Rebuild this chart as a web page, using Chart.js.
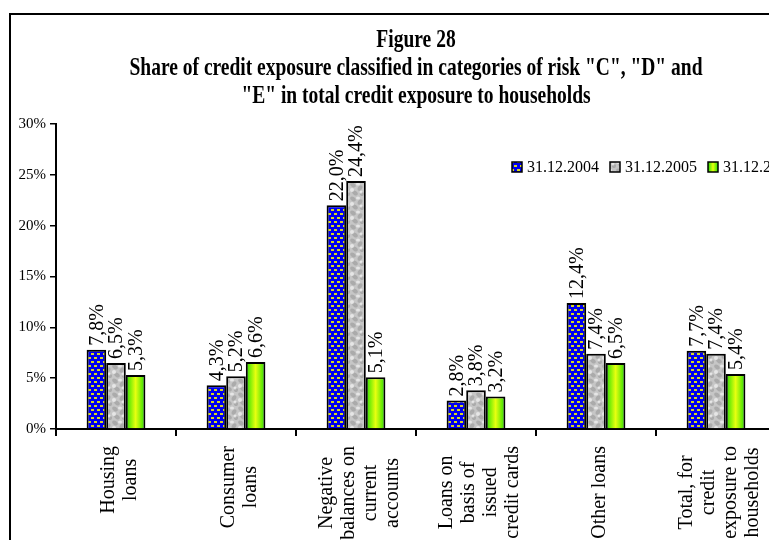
<!DOCTYPE html>
<html lang="en">
<head>
<meta charset="utf-8">
<script src="https://cdn.jsdelivr.net/npm/chart.js@4.4.1/dist/chart.umd.min.js"></script>
<style>
    html, body { margin: 0; padding: 0; background: #fff; overflow: hidden; }
    #frame { position: absolute; left: 9px; top: 13px; width: 900px; height: 700px;
             border-left: 2px solid #000; border-top: 2px solid #000; }
    #wrap { position: absolute; left: 0; top: 0; width: 800px; height: 540px; }
</style>
</head>
<body>
<div id="frame"></div>
<div id="wrap"><canvas id="riskChart" width="800" height="540"></canvas></div>

<script>
    // data
    var categories = [
        ['Housing', 'loans'],
        ['Consumer', 'loans'],
        ['Negative', 'balances on', 'current', 'accounts'],
        ['Loans on', 'basis of', 'issued', 'credit cards'],
        ['Other loans'],
        ['Total, for', 'credit', 'exposure to', 'households']
    ];
    var seriesLabels = ['31.12.2004', '31.12.2005', '31.12.2006'];
    var values2004 = [7.8, 4.3, 22.0, 2.8, 12.4, 7.7];
    var values2005 = [6.5, 5.2, 24.4, 3.8, 7.4, 7.4];
    var values2006 = [5.3, 6.6, 5.1, 3.2, 6.5, 5.4];
    var yMin = 0, yMax = 30, yStep = 5;
    var titleLines = [
        'Figure 28',
        'Share of credit exposure classified in categories of risk "C", "D" and',
        '"E" in total credit exposure to households'
    ];

    var CAT_PCT = 0.49;
    var SERIF = '"Liberation Serif", "Times New Roman", serif';

    function makeTile(w, h, draw) {
        var c = document.createElement('canvas');
        c.width = w; c.height = h;
        draw(c.getContext('2d'));
        return c;
    }

    var mainCtx = document.getElementById('riskChart').getContext('2d');

    // blue with little yellow dashes
    var blueFill = mainCtx.createPattern(makeTile(6, 8, function (g) {
        g.fillStyle = '#0000f0'; g.fillRect(0, 0, 6, 8);
        g.fillStyle = '#d8d820';
        g.fillRect(1, 1, 3, 2);
        g.fillRect(4, 5, 2, 2);
        g.fillRect(0, 5, 1, 2);
    }), 'repeat');

    // grey marble-ish texture
    var greyFill = mainCtx.createPattern(makeTile(14, 14, function (g) {
        g.fillStyle = '#c6c6c6'; g.fillRect(0, 0, 14, 14);
        g.fillStyle = 'rgba(120,120,120,0.35)';
        [[3, 3, 3, 2], [10, 6, 2, 3], [5, 11, 3, 2], [12, 12, 2, 2]].forEach(function (e) {
            g.beginPath(); g.ellipse(e[0], e[1], e[2], e[3], 0.6, 0, Math.PI * 2); g.fill();
        });
        g.fillStyle = 'rgba(240,240,240,0.75)';
        [[8, 2, 2, 1.5], [2, 8, 2, 2], [11, 10, 1.5, 1.5]].forEach(function (e) {
            g.beginPath(); g.ellipse(e[0], e[1], e[2], e[3], 0, 0, Math.PI * 2); g.fill();
        });
    }), 'repeat');

    function greenGradient(ctx2d, left, width) {
        var gr = ctx2d.createLinearGradient(left, 0, left + width, 0);
        gr.addColorStop(0, '#22e000');
        gr.addColorStop(0.5, '#e8ff10');
        gr.addColorStop(1, '#22e000');
        return gr;
    }

    function greenFill(context) {
        var chart = context.chart;
        var xs = chart.scales.x;
        if (context.type !== 'data' || !xs) return '#33ee00';
        var slot = xs.width / categories.length * CAT_PCT / 3;
        var left = xs.getPixelForValue(context.dataIndex) - slot * 1.5 + slot * 2;
        if (!isFinite(left) || !isFinite(slot) || slot <= 0) return '#33ee00';
        return greenGradient(chart.ctx, left, slot);
    }

    function fmt(v) {
        return v.toFixed(1).replace('.', ',') + '%';
    }

    var titlePlugin = {
        id: 'titleText',
        afterDraw: function (chart) {
            var ctx = chart.ctx;
            var cx = (chart.chartArea.left + chart.chartArea.right) / 2;
            var baselines = [47, 75, 103];
            ctx.save();
            ctx.fillStyle = '#000';
            ctx.font = 'bold 25px ' + SERIF;
            ctx.textAlign = 'center';
            ctx.textBaseline = 'alphabetic';
            titleLines.forEach(function (line, i) {
                ctx.save();
                ctx.translate(cx, baselines[i]);
                ctx.scale(0.78, 1);
                ctx.fillText(line, 0, 0);
                ctx.restore();
            });
            ctx.restore();
        }
    };

    var legendPlugin = {
        id: 'legendBoxes',
        afterDraw: function (chart) {
            var ctx = chart.ctx;
            var x = 512, y = 167;
            ctx.save();
            ctx.font = '16px ' + SERIF;
            ctx.textBaseline = 'middle';
            ctx.textAlign = 'left';
            chart.data.datasets.forEach(function (ds, i) {
                var fill = i === 2 ? greenGradient(ctx, x, 10) : ds.backgroundColor;
                ctx.fillStyle = fill;
                ctx.fillRect(x, y - 5, 10, 10);
                ctx.strokeStyle = '#000';
                ctx.lineWidth = 1.5;
                ctx.strokeRect(x, y - 5, 10, 10);
                ctx.fillStyle = '#000';
                ctx.fillText(ds.label, x + 15, y + 1);
                x += 15 + ctx.measureText(ds.label).width + 11;
            });
            ctx.restore();
        }
    };

    var valueLabelPlugin = {
        id: 'valueLabels',
        afterDatasetsDraw: function (chart) {
            var ctx = chart.ctx;
            ctx.save();
            ctx.fillStyle = '#000';
            ctx.font = '20px ' + SERIF;
            ctx.textAlign = 'left';
            ctx.textBaseline = 'middle';
            chart.data.datasets.forEach(function (ds, d) {
                chart.getDatasetMeta(d).data.forEach(function (bar, i) {
                    ctx.save();
                    ctx.translate(bar.x + 1, bar.y - 4);
                    ctx.rotate(-Math.PI / 2);
                    ctx.fillText(fmt(ds.data[i]), 0, 0);
                    ctx.restore();
                });
            });
            ctx.restore();
        }
    };

    var categoryLabelPlugin = {
        id: 'categoryLabels',
        afterDraw: function (chart) {
            var ctx = chart.ctx;
            var xs = chart.scales.x;
            var lineH = 22;
            ctx.save();
            ctx.fillStyle = '#000';
            ctx.font = '20px ' + SERIF;
            ctx.textAlign = 'center';
            ctx.textBaseline = 'middle';
            categories.forEach(function (lines, i) {
                var cx = xs.getPixelForValue(i) + 4;
                var maxW = 0;
                lines.forEach(function (l) { maxW = Math.max(maxW, ctx.measureText(l).width); });
                var cy = xs.top + 17 + maxW / 2;
                lines.forEach(function (l, j) {
                    ctx.save();
                    ctx.translate(cx + (j - (lines.length - 1) / 2) * lineH, cy);
                    ctx.rotate(-Math.PI / 2);
                    ctx.fillText(l, 0, 0);
                    ctx.restore();
                });
            });
            ctx.restore();
        }
    };

    var riskChart = new Chart(mainCtx, {
        type: 'bar',
        data: {
            labels: categories.map(function (c) { return c.join(' '); }),
            datasets: [
                { label: seriesLabels[0], data: values2004, backgroundColor: blueFill },
                { label: seriesLabels[1], data: values2005, backgroundColor: greyFill },
                { label: seriesLabels[2], data: values2006, backgroundColor: greenFill }
            ]
        },
        options: {
            responsive: false,
            animation: false,
            devicePixelRatio: 1,
            layout: { padding: { top: 124, right: 24, left: 0, bottom: 0 } },
            datasets: {
                bar: {
                    borderColor: '#000',
                    borderWidth: 2,
                    categoryPercentage: CAT_PCT,
                    barPercentage: 1
                }
            },
            plugins: {
                legend: { display: false },
                title: { display: false },
                tooltip: { enabled: false }
            },
            scales: {
                x: {
                    offset: true,
                    grid: {
                        display: true,
                        offset: true,
                        drawOnChartArea: false,
                        drawTicks: true,
                        tickLength: 7,
                        color: '#000',
                        lineWidth: 2
                    },
                    border: { display: true, color: '#000', width: 2 },
                    ticks: { display: false },
                    afterFit: function (scale) { scale.height = 111; }
                },
                y: {
                    min: yMin,
                    max: yMax,
                    grid: {
                        drawOnChartArea: false,
                        drawTicks: true,
                        tickLength: 6,
                        color: '#000',
                        lineWidth: 1.5
                    },
                    border: { display: true, color: '#000', width: 2 },
                    ticks: {
                        stepSize: yStep,
                        padding: 4,
                        color: '#000',
                        font: { family: SERIF, size: 15 },
                        callback: function (v) { return v + '%'; }
                    },
                    afterFit: function (scale) { scale.width = 56; }
                }
            }
        },
        plugins: [titlePlugin, legendPlugin, valueLabelPlugin, categoryLabelPlugin]
    });
</script>
</body>
</html>
